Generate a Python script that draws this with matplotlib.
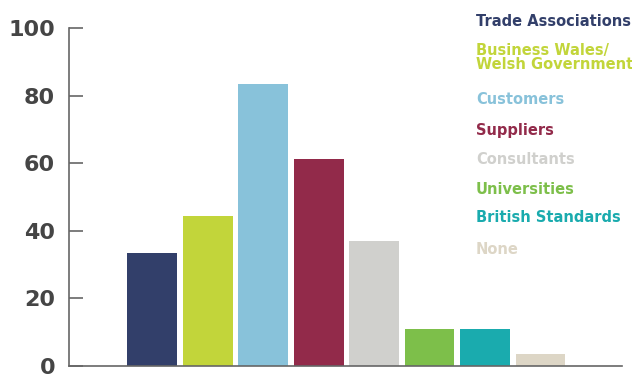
import matplotlib
matplotlib.use("Agg")
import matplotlib.pyplot as plt

categories = ["Trade Associations", "Business Wales/\nWelsh Government", "Customers",
              "Suppliers", "Consultants", "Universities", "British Standards", "None"]
values = [33.4, 44.3, 83.4, 61.2, 36.9, 11.0, 11.0, 3.5]
colors = ["#323f6a", "#c2d53a", "#88c2da", "#922a4a", "#d0d0cd", "#7dbf4a", "#1aabae", "#ddd6c6"]
yticks = [0, 20, 40, 60, 80, 100]

W, H = 632, 376
fig = plt.figure(figsize=(W / 100, H / 100), dpi=100)
ax = fig.add_axes([69 / W, 1 - 366 / H, (622 - 69) / W, (366 - 28) / H])

x = list(range(len(values)))
ax.bar(x, values, width=0.9, color=colors, zorder=2)

ax.set_xlim(-1.5, 8.47)
ax.set_ylim(0, 100)
ax.set_xticks([])
ax.set_yticks(yticks)
ax.set_yticklabels([str(t) for t in yticks], fontsize=16, fontweight="bold", color="#454545")
ax.tick_params(axis="y", direction="in", length=10, width=1.2, color="#666666", pad=10)

for side in ("top", "right"):
    ax.spines[side].set_visible(False)
for side in ("left", "bottom"):
    ax.spines[side].set_color("#666666")
    ax.spines[side].set_linewidth(1.2)

# Category key down the right-hand side
label_rows = [22, 57.5, 100, 130, 160, 190, 218, 249]
for name, col, row in zip(categories, colors, label_rows):
    fig.text(476 / W, 1 - row / H, name, color=col, fontsize=10.5, fontweight="bold",
             ha="left", va="center", linespacing=0.9)

fig.savefig("out.png", dpi=100)
